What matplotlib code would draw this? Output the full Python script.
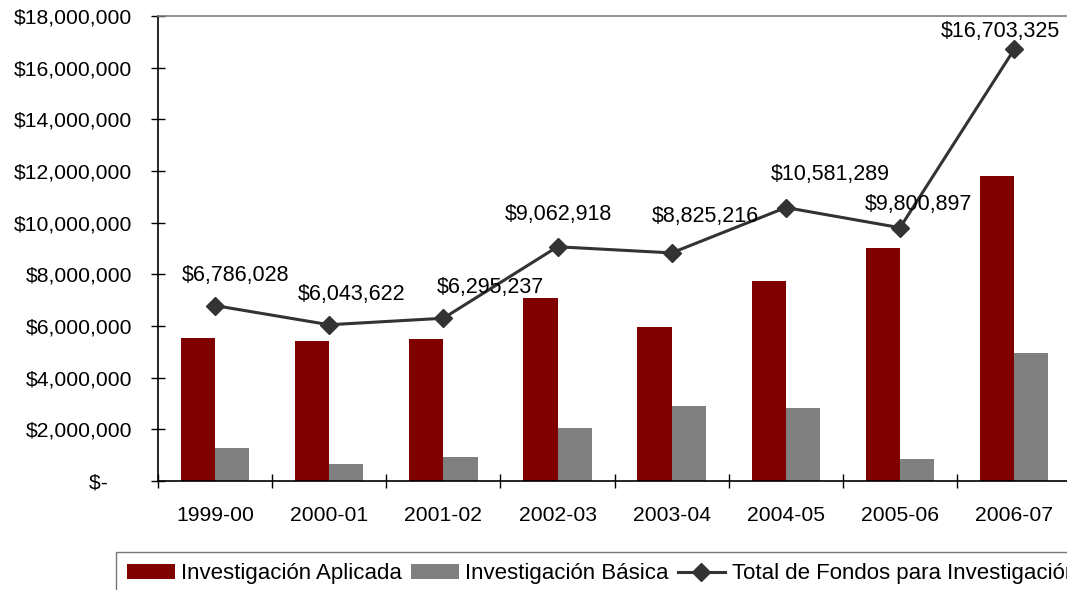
import numpy as np
import matplotlib
matplotlib.use('Agg')
import matplotlib.pyplot as plt
from matplotlib.ticker import FuncFormatter, FixedLocator

plt.rcParams['font.family'] = ['Liberation Sans', 'DejaVu Sans']

# datos
periodos = ['1999-00', '2000-01', '2001-02', '2002-03', '2003-04', '2004-05', '2005-06', '2006-07']
aplicada = [5.54e6, 5.43e6, 5.50e6, 7.08e6, 5.96e6, 7.74e6, 9.02e6, 11.81e6]
basica = [1.28e6, 0.66e6, 0.92e6, 2.03e6, 2.89e6, 2.83e6, 0.84e6, 4.96e6]
total = [6786028, 6043622, 6295237, 9062918, 8825216, 10581289, 9800897, 16703325]
# desplazamiento de las etiquetas (puntos)
desp_etiquetas = [(15, 22), (16, 22), (34, 22), (1, 23), (24, 26), (32, 24), (13, 17), (-10, 13)]

rojo = '#800000'
gris = '#808080'
oscuro = '#333333'

fig = plt.figure(figsize=(10.67, 5.9), dpi=100)
ax = fig.add_axes([0.148, 0.185, 0.856, 0.788])

x = np.arange(len(periodos))
ancho = 0.3
b1 = ax.bar(x - ancho / 2, aplicada, ancho, color=rojo, label='Investigación Aplicada', zorder=2)
b2 = ax.bar(x + ancho / 2, basica, ancho, color=gris, label='Investigación Básica', zorder=2)
l1, = ax.plot(x, total, color=oscuro, lw=2.2, marker='D', markersize=9,
              label='Total de Fondos para Investigación', zorder=3)

for xi, v, (dx, dy) in zip(x, total, desp_etiquetas):
    ax.annotate(f'${v:,.0f}', (xi, v), xytext=(dx, dy), textcoords='offset points',
                ha='center', va='center', fontsize=15.5, color='black', zorder=4)

ax.set_xlim(-0.5, len(periodos) - 0.5)
ax.set_ylim(0, 18e6)
ax.set_yticks(np.arange(0, 18e6 + 1, 2e6))


def fmt_pesos(v, pos):
    if v == 0:
        return '$-    '
    return f'${v:,.0f}'


ax.yaxis.set_major_formatter(FuncFormatter(fmt_pesos))
ax.set_xticks(x)
ax.set_xticklabels(periodos)
ax.xaxis.set_minor_locator(FixedLocator(np.arange(-0.5, len(periodos), 1.0)))

ax.tick_params(axis='y', direction='inout', length=9.5, width=1, labelsize=15.2, pad=14)
ax.tick_params(axis='x', which='major', length=0, labelsize=15.2, pad=18)
ax.tick_params(axis='x', which='minor', direction='inout', length=10, width=1)

for lado in ['left', 'bottom']:
    ax.spines[lado].set_color('black')
    ax.spines[lado].set_linewidth(1.2)
for lado in ['top', 'right']:
    ax.spines[lado].set_color(gris)
    ax.spines[lado].set_linewidth(1.2)

fig.legend(handles=[b1, b2, l1], loc='upper left', bbox_to_anchor=(0.109, 0.064),
           ncol=3, fontsize=16, frameon=True, fancybox=False, edgecolor='#555555',
           handlelength=2.15, handleheight=0.6, handletextpad=0.28, columnspacing=0.4,
           borderpad=0.5, borderaxespad=0)

fig.savefig('out.png', dpi=100)
